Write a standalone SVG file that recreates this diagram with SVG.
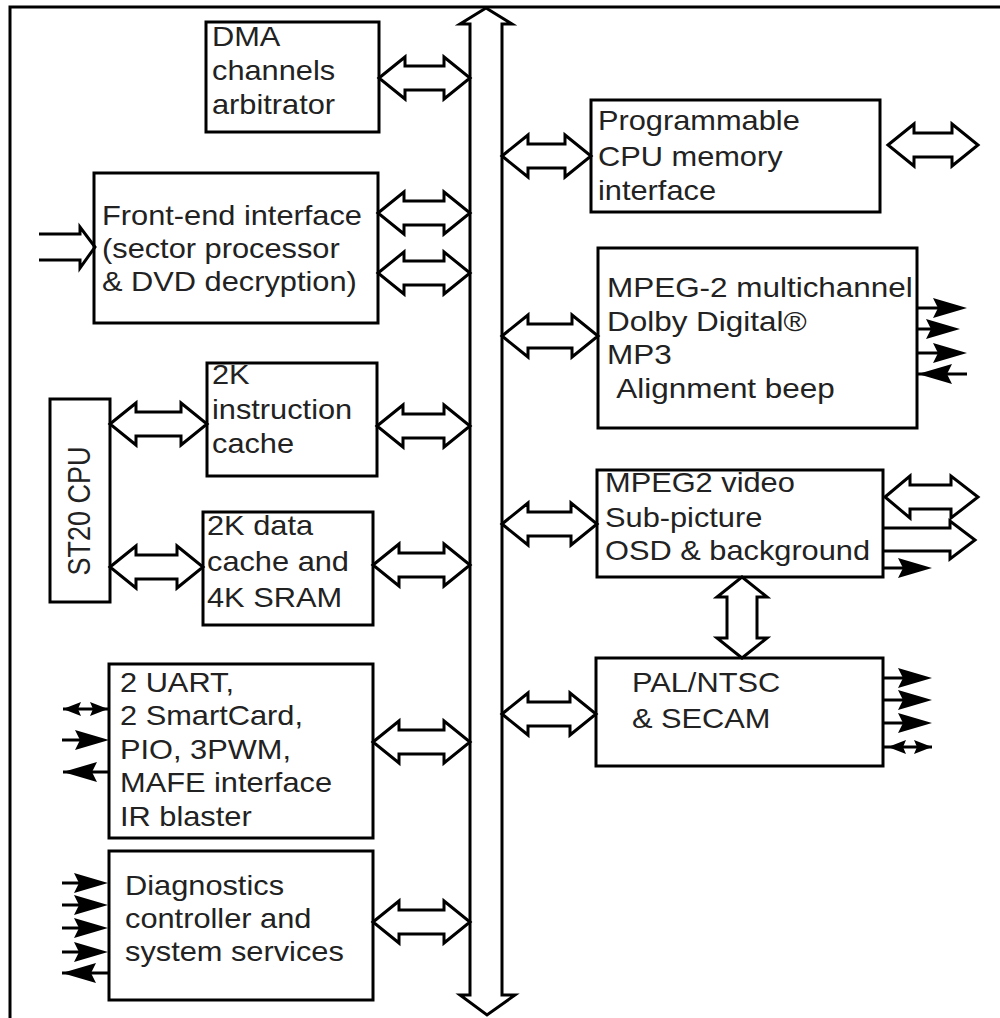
<svg xmlns="http://www.w3.org/2000/svg" xmlns:xlink="http://www.w3.org/1999/xlink" width="1000" height="1018" viewBox="0 0 1000 1018">
<style>
.box{fill:#fff;stroke:#000;stroke-width:3}
.dbl{fill:#fff;stroke:#000;stroke-width:3;stroke-linejoin:miter}
.open{fill:none;stroke:#000;stroke-width:3}
.ln{stroke:#000;stroke-width:3;fill:none}
.t{font-family:"Liberation Sans",Arial,sans-serif;font-size:27px;fill:#222}
</style>
<defs>
<path id="ah" d="M0,0 L-34,-10 L-29,0 L-34,10 Z" fill="#000"/>
<path id="sh" d="M0,0 L-18,-7 L-15,0 L-18,7 Z" fill="#000"/>
</defs>
<rect width="1000" height="1018" fill="#fff"/>
<path class="ln" d="M10,1018 V7 H1000"/>

<g id="bus">
<path class="dbl" d="M470,995 V24 H460 L486,8 L512,24 H502 V995 H515 L487,1015 L460,995 Z"/>
</g>

<g id="dma">
<rect class="box" x="206" y="22" width="173" height="110"/>
<text class="t" transform="translate(212,46) scale(1.14,1)"><tspan x="0" y="0">DMA</tspan><tspan x="0" y="34">channels</tspan><tspan x="0" y="68">arbitrator</tspan></text>
</g>

<g id="frontend">
<rect class="box" x="94" y="173" width="284" height="150"/>
<text class="t" transform="translate(102,225) scale(1.14,1)"><tspan x="0" y="0">Front-end interface</tspan><tspan x="0" y="33">(sector processor</tspan><tspan x="0" y="66">&amp; DVD decryption)</tspan></text>
</g>

<g id="icache">
<rect class="box" x="207" y="363" width="170" height="113"/>
<text class="t" transform="translate(212,384) scale(1.14,1)"><tspan x="0" y="0">2K</tspan><tspan x="0" y="35">instruction</tspan><tspan x="0" y="69">cache</tspan></text>
</g>

<g id="st20">
<rect class="box" x="50" y="399" width="60" height="203"/>
<text class="t" text-anchor="middle" transform="translate(90,511) rotate(-90) scale(1,1.15)">ST20 CPU</text>
</g>

<g id="dcache">
<rect class="box" x="203" y="512" width="170" height="113"/>
<text class="t" transform="translate(207,535) scale(1.14,1)"><tspan x="0" y="0">2K data</tspan><tspan x="0" y="36">cache and</tspan><tspan x="0" y="72">4K SRAM</tspan></text>
</g>

<g id="uart">
<rect class="box" x="109" y="664" width="264" height="174"/>
<text class="t" transform="translate(120,692) scale(1.14,1)"><tspan x="0" y="0">2 UART,</tspan><tspan x="0" y="33.5">2 SmartCard,</tspan><tspan x="0" y="67">PIO, 3PWM,</tspan><tspan x="0" y="100.5">MAFE interface</tspan><tspan x="0" y="134">IR blaster</tspan></text>
</g>

<g id="diag">
<rect class="box" x="109" y="851" width="264" height="149"/>
<text class="t" transform="translate(125,895) scale(1.14,1)"><tspan x="0" y="0">Diagnostics</tspan><tspan x="0" y="33">controller and</tspan><tspan x="0" y="66">system services</tspan></text>
</g>

<g id="cpumem">
<rect class="box" x="591" y="100" width="289" height="112"/>
<text class="t" transform="translate(598,130) scale(1.14,1)"><tspan x="0" y="0">Programmable</tspan><tspan x="0" y="36">CPU memory</tspan><tspan x="0" y="70">interface</tspan></text>
</g>

<g id="audio">
<rect class="box" x="598" y="248" width="319" height="180"/>
<text class="t" transform="translate(607,297) scale(1.165,1)"><tspan x="0" y="0">MPEG-2 multichannel</tspan><tspan x="0" y="34">Dolby Digital®</tspan><tspan x="0" y="67">MP3</tspan><tspan x="8" y="101">Alignment beep</tspan></text>
</g>

<g id="video">
<rect class="box" x="597" y="470" width="286" height="107"/>
<text class="t" transform="translate(605,492) scale(1.14,1)"><tspan x="0" y="0">MPEG2 video</tspan><tspan x="0" y="35">Sub-picture</tspan><tspan x="0" y="68">OSD &amp; background</tspan></text>
</g>

<g id="pal">
<rect class="box" x="596" y="658" width="287" height="108"/>
<text class="t" transform="translate(632,692) scale(1.14,1)"><tspan x="0" y="0">PAL/NTSC</tspan><tspan x="0" y="36">&amp; SECAM</tspan></text>
</g>

<g id="connectors">
<path class="dbl" d="M379,78 L405,57 L405,66 L444,66 L444,57 L470,78 L444,99 L444,90 L405,90 L405,99 Z"/>
<path class="dbl" d="M378,213 L404,192 L404,201 L444,201 L444,192 L470,213 L444,234 L444,225 L404,225 L404,234 Z"/>
<path class="dbl" d="M378,273 L404,252 L404,261 L444,261 L444,252 L470,273 L444,294 L444,285 L404,285 L404,294 Z"/>
<path class="dbl" d="M377,426 L403,405 L403,414 L444,414 L444,405 L470,426 L444,447 L444,438 L403,438 L403,447 Z"/>
<path class="dbl" d="M110,424 L136,403 L136,412 L181,412 L181,403 L207,424 L181,445 L181,436 L136,436 L136,445 Z"/>
<path class="dbl" d="M110,567 L136,546 L136,555 L177,555 L177,546 L203,567 L177,588 L177,579 L136,579 L136,588 Z"/>
<path class="dbl" d="M373,565 L399,544 L399,553 L444,553 L444,544 L470,565 L444,586 L444,577 L399,577 L399,586 Z"/>
<path class="dbl" d="M373,742 L399,721 L399,730 L444,730 L444,721 L470,742 L444,763 L444,754 L399,754 L399,763 Z"/>
<path class="dbl" d="M373,922 L399,901 L399,910 L444,910 L444,901 L470,922 L444,943 L444,934 L399,934 L399,943 Z"/>
<path class="dbl" d="M502,156 L528,135 L528,144 L565,144 L565,135 L591,156 L565,177 L565,168 L528,168 L528,177 Z"/>
<path class="dbl" d="M888,145 L914,124 L914,133 L952,133 L952,124 L978,145 L952,166 L952,157 L914,157 L914,166 Z"/>
<path class="dbl" d="M502,336 L528,315 L528,324 L572,324 L572,315 L598,336 L572,357 L572,348 L528,348 L528,357 Z"/>
<path class="dbl" d="M502,524 L528,503 L528,512 L571,512 L571,503 L597,524 L571,545 L571,536 L528,536 L528,545 Z"/>
<path class="dbl" d="M502,714 L528,693 L528,702 L570,702 L570,693 L596,714 L570,735 L570,726 L528,726 L528,735 Z"/>
<path class="dbl" d="M885,497 L910,476 L910,485 L951,485 L951,476 L978,497 L951,518 L951,509 L910,509 L910,518 Z"/>
<path class="dbl" d="M742,577 L767,597 L757,597 L757,638 L767,638 L742,658 L717,638 L727,638 L727,597 L717,597 Z"/>
<path class="open" d="M39,234 H80 V227 L95,247 L80,268 V260 H39"/>
<path class="open" d="M883,528 H950 V521 L975,540 L950,559 V551 H883"/>
<line class="ln" x1="917" y1="308" x2="940" y2="308"/><use xlink:href="#ah" transform="translate(967,308)"/>
<line class="ln" x1="917" y1="329" x2="935" y2="329"/><use xlink:href="#ah" transform="translate(960,329)"/>
<line class="ln" x1="917" y1="353" x2="940" y2="353"/><use xlink:href="#ah" transform="translate(967,353)"/>
<line class="ln" x1="917" y1="374" x2="967" y2="374"/><use xlink:href="#ah" transform="translate(918,374) scale(-1,1)"/>
<line class="ln" x1="883" y1="568" x2="905" y2="568"/><use xlink:href="#ah" transform="translate(932,568)"/>
<line class="ln" x1="883" y1="678" x2="905" y2="678"/><use xlink:href="#ah" transform="translate(932,678)"/>
<line class="ln" x1="883" y1="700" x2="905" y2="700"/><use xlink:href="#ah" transform="translate(932,700)"/>
<line class="ln" x1="883" y1="723" x2="905" y2="723"/><use xlink:href="#ah" transform="translate(932,723)"/>
<line class="ln" x1="883" y1="747" x2="932" y2="747"/><use xlink:href="#sh" transform="translate(888,747) scale(-1,1)"/><use xlink:href="#sh" transform="translate(932,747)"/>
<line class="ln" x1="63" y1="709" x2="109" y2="709"/><use xlink:href="#sh" transform="translate(63,709) scale(-1,1)"/><use xlink:href="#sh" transform="translate(108,709)"/>
<line class="ln" x1="62" y1="740" x2="85" y2="740"/><use xlink:href="#ah" transform="translate(109,740)"/>
<line class="ln" x1="63" y1="772" x2="109" y2="772"/><use xlink:href="#ah" transform="translate(63,772) scale(-1,1)"/>
<line class="ln" x1="62" y1="883" x2="85" y2="883"/><use xlink:href="#ah" transform="translate(108,883)"/>
<line class="ln" x1="62" y1="905" x2="85" y2="905"/><use xlink:href="#ah" transform="translate(108,905)"/>
<line class="ln" x1="62" y1="928" x2="85" y2="928"/><use xlink:href="#ah" transform="translate(108,928)"/>
<line class="ln" x1="62" y1="952" x2="85" y2="952"/><use xlink:href="#ah" transform="translate(108,952)"/>
<line class="ln" x1="62" y1="973" x2="109" y2="973"/><use xlink:href="#ah" transform="translate(62,973) scale(-1,1)"/>
</g>
</svg>
